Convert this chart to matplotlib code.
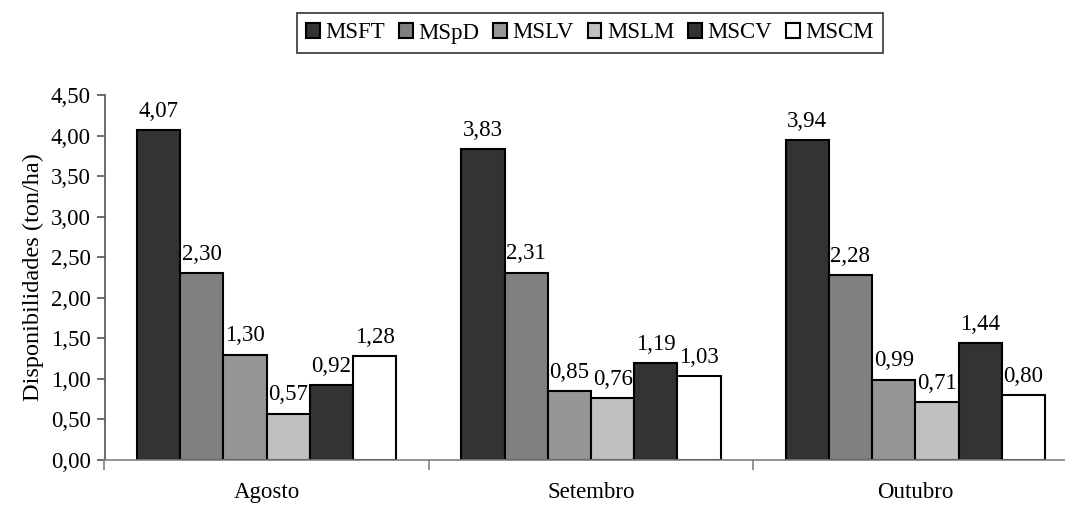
import numpy as np
import matplotlib.pyplot as plt

plt.rcParams['font.family'] = ['Liberation Serif', 'DejaVu Serif']

# Data
months = ["Agosto", "Setembro", "Outubro"]
series = ["MSFT", "MSpD", "MSLV", "MSLM", "MSCV", "MSCM"]
msft = [4.07, 3.83, 3.94]
mspd = [2.30, 2.31, 2.28]
mslv = [1.30, 0.85, 0.99]
mslm = [0.57, 0.76, 0.71]
mscv = [0.92, 1.19, 1.44]
mscm = [1.28, 1.03, 0.80]
values = [msft, mspd, mslv, mslm, mscv, mscm]
colors = ["#333333", "#808080", "#969696", "#c0c0c0", "#333333", "#ffffff"]

fig = plt.figure(figsize=(10.65, 5.07), dpi=100)
ax = fig.add_axes([104.5 / 1065, 47 / 507, 973 / 1065, 365 / 507])

x = np.arange(len(months))
width = 0.8 / len(series)
for i, (name, vals, c) in enumerate(zip(series, values, colors)):
    pos = x - 0.4 + width * (i + 0.5)
    bars = ax.bar(pos, vals, width, color=c, edgecolor="black", linewidth=1.5, label=name)
    for b, v in zip(bars, vals):
        ax.annotate(f"{v:.2f}".replace(".", ","), (b.get_x() + b.get_width() / 2, v),
                    xytext=(0, 6), textcoords="offset points", ha="center", va="bottom",
                    fontsize=16.5)

ax.set_xlim(-0.5, 2.5)
ax.set_ylim(0, 4.5)
yt = np.arange(0, 4.51, 0.5)
ax.set_yticks(yt)
ax.set_yticklabels([f"{t:.2f}".replace(".", ",") for t in yt], fontsize=16.5)
ax.set_ylabel("Disponibilidades (ton/ha)", fontsize=17.5, labelpad=5)

ax.set_xticks([-0.5, 0.5, 1.5, 2.5])
ax.set_xticklabels([])
ax.set_xticks(x, minor=True)
ax.set_xticklabels(months, minor=True, fontsize=16.5)
ax.tick_params(axis="x", which="minor", length=0, pad=16)
ax.tick_params(axis="x", which="major", length=7, color="#808080", width=1.2)
ax.tick_params(axis="y", length=6, color="#555555", width=1.2, pad=4)

for s in ["top", "right"]:
    ax.spines[s].set_visible(False)
ax.spines["left"].set_color("#555555")
ax.spines["bottom"].set_color("#808080")
ax.spines["left"].set_linewidth(1.2)
ax.spines["bottom"].set_linewidth(1.2)

leg = fig.legend(loc="center", bbox_to_anchor=(590 / 1065, 1 - 33 / 507), ncol=6,
                 fontsize=16.5, frameon=True, fancybox=False, edgecolor="black",
                 handlelength=0.6, handleheight=0.6, handletextpad=0.25,
                 columnspacing=0.6, borderpad=0.4)
leg.get_frame().set_linewidth(1.2)

fig.savefig("out.png", dpi=100)
